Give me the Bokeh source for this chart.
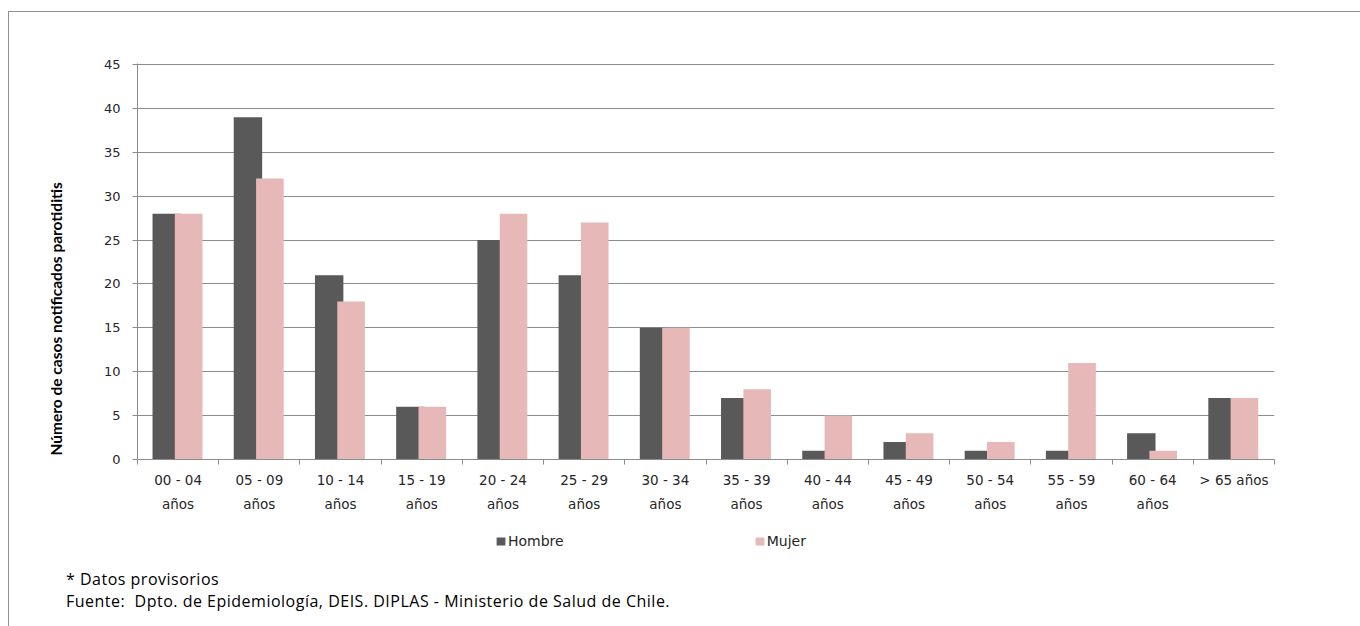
from bokeh.plotting import figure
from bokeh.models import (Range1d, FixedTicker, Legend, LegendItem, Title,
                          ColumnDataSource, Spacer, Div)
from bokeh.layouts import column, row
from bokeh.transform import dodge
from bokeh.embed import file_html
from bokeh.resources import INLINE
import html

categories = ["00 - 04 años", "05 - 09 años", "10 - 14 años", "15 - 19 años",
              "20 - 24 años", "25 - 29 años", "30 - 34 años", "35 - 39 años",
              "40 - 44 años", "45 - 49 años", "50 - 54 años", "55 - 59 años",
              "60 - 64 años", "> 65 años"]
tick_labels = ["00 - 04\naños", "05 - 09\naños", "10 - 14\naños", "15 - 19\naños",
               "20 - 24\naños", "25 - 29\naños", "30 - 34\naños", "35 - 39\naños",
               "40 - 44\naños", "45 - 49\naños", "50 - 54\naños", "55 - 59\naños",
               "60 - 64\naños", "> 65 años"]
hombre = [28, 39, 21, 6, 25, 21, 15, 7, 1, 2, 1, 1, 3, 7]
mujer = [28, 32, 18, 6, 28, 27, 15, 8, 5, 3, 2, 11, 1, 7]
y_ticks = [0, 5, 10, 15, 20, 25, 30, 35, 40, 45]
y_title = "Número de casos  notificados  parotiditis"
footer1 = "* Datos provisorios"
footer2 = "Fuente:  Dpto. de Epidemiología, DEIS. DIPLAS - Ministerio de Salud de Chile."

n = len(categories)
pos = [i + 0.5 for i in range(n)]
src = ColumnDataSource(dict(x=pos, hombre=hombre, mujer=mujer, cat=categories))

GRAY = "#8c8c8c"
TXT = "#262626"
DARK = "#595959"
PINK = "#e6b9b8"

p = figure(width=1351, height=507, output_backend="svg", toolbar_location=None,
           x_range=Range1d(0, n), y_range=Range1d(0, 45.114),
           min_border_left=127, min_border_right=86, min_border_top=51,
           min_border_bottom=60)
p.outline_line_color = None
p.background_fill_color = "white"
p.border_fill_color = "white"

xa = p.xaxis[0]
xa.ticker = FixedTicker(ticks=pos, minor_ticks=list(range(n + 1)))
xa.major_label_overrides = {pos[i]: tick_labels[i] for i in range(n)}
xa.major_tick_out = 0
xa.major_tick_in = 0
xa.minor_tick_out = 5
xa.minor_tick_in = 0
xa.minor_tick_line_color = GRAY
xa.axis_line_color = GRAY
xa.major_label_standoff = 7
xa.major_label_text_font = "DejaVu Sans"
xa.major_label_text_font_size = "13.5px"
xa.major_label_text_line_height = 1.5
xa.major_label_text_color = TXT

ya = p.yaxis[0]
ya.ticker = FixedTicker(ticks=y_ticks, minor_ticks=[])
ya.major_tick_out = 5
ya.major_tick_in = 0
ya.major_tick_line_color = GRAY
ya.minor_tick_line_color = None
ya.axis_line_color = GRAY
ya.major_label_standoff = 12
ya.major_label_text_font = "DejaVu Sans"
ya.major_label_text_font_size = "13px"
ya.major_label_text_color = TXT

p.xgrid.visible = False
p.ygrid.ticker = FixedTicker(ticks=y_ticks, minor_ticks=[])
p.ygrid.grid_line_color = GRAY
p.ygrid.grid_line_width = 1

p.vbar(x=dodge('x', -0.14, range=p.x_range), top='hombre', width=0.35, source=src,
       fill_color=DARK, line_color=None)
p.vbar(x=dodge('x', 0.13, range=p.x_range), top='mujer', width=0.34, source=src,
       fill_color=PINK, line_color=None)

p.add_layout(Title(text=y_title, align="left", offset=4, standoff=71,
                   text_font="Lato", text_font_size="15.5px",
                   text_font_style="bold", text_color="black"), "left")

# legend strip (its frame is aligned with the chart frame above)
H2 = 40
q = figure(width=1351, height=H2, output_backend="svg", toolbar_location=None,
           x_range=Range1d(0, n), y_range=Range1d(-1000, -900),
           min_border_left=127, min_border_right=86, min_border_top=0,
           min_border_bottom=0)
q.axis.visible = False
q.grid.visible = False
q.outline_line_color = None
q.border_fill_color = "white"
lh = q.vbar(x='x', top='hombre', width=0.35, source=src, fill_color=DARK,
            line_color=None, visible=False)
lm = q.vbar(x='x', top='mujer', width=0.34, source=src, fill_color=PINK,
            line_color=None, visible=False)

legend = Legend(items=[LegendItem(label="Hombre", renderers=[lh]),
                       LegendItem(label="Mujer", renderers=[lm])],
                orientation="horizontal", location=(358, 10), spacing=190,
                glyph_width=11, glyph_height=10, label_standoff=2,
                padding=0, margin=0, border_line_color=None,
                background_fill_alpha=0,
                label_text_font="DejaVu Sans", label_text_font_size="14px",
                label_text_color=TXT)
q.add_layout(legend, "center")

notes = Div(text=html.escape(footer1) + "<br>" +
            html.escape(footer2).replace("  ", "&nbsp; "),
            width=1351, height=66,
            styles={"font-family": "'Open Sans'", "font-size": "16px",
                    "letter-spacing": "0.5px",
                    "line-height": "22px", "color": "black",
                    "padding-left": "52px", "padding-top": "4px",
                    "box-sizing": "border-box", "white-space": "nowrap"})

inner = column(p, q, notes, spacing=0,
               styles={"border-top": "1px solid #8f8f8f",
                       "border-left": "1px solid #8f8f8f"})
layout = column(Spacer(height=11), row(Spacer(width=8), inner, spacing=0), spacing=0)

open("out.html", "w").write(file_html(layout, INLINE))
